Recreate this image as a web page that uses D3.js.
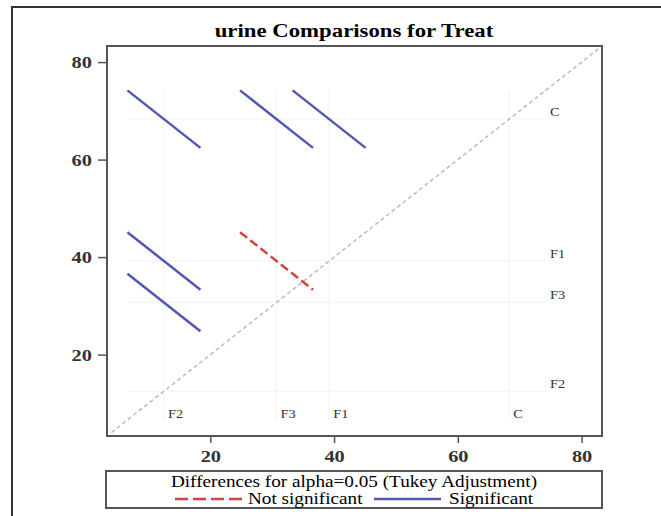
<!DOCTYPE html>
<html>
<head>
<meta charset="utf-8">
<script src="https://cdn.jsdelivr.net/npm/d3@7"></script>
<style>
	body { margin: 0; background: #fff; }
	text { font-family: "Liberation Serif", "Times New Roman", serif; }
</style>
</head>
<body>
<div id="chart"></div>
<script>
// treatment levels and their least squares means
let levels = ['C', 'F1', 'F3', 'F2'];
let means = [68.3, 39.2, 30.7, 12.5];

// pairwise comparisons: higher level, lower level, lower and upper Tukey limits of the difference
let pairHigh = ['C', 'C', 'C', 'F1', 'F3', 'F1'];
let pairLow = ['F2', 'F3', 'F1', 'F2', 'F2', 'F3'];
let pairLower = [44.0, 25.8, 17.3, 14.9, 6.4, -3.3];
let pairUpper = [67.6, 49.4, 40.9, 38.5, 30.0, 20.3];

let ticks = [20, 40, 60, 80];
let axisDomain = [3.3, 83.3];
let refExtent = [6.6, 74.2];

let width = 661;
let height = 516;

let blue = '#5058b3';
let red = '#cf4540';

// the picture is a little wider than tall, text glyphs are stretched the same way
let stretchX = 1.2;

let meanOf = {};
levels.forEach((l, i) => meanOf[l] = means[i]);

let xScale = d3.scaleLinear().domain(axisDomain).range([107, 602]);
let yScale = d3.scaleLinear().domain(axisDomain).range([436, 46]);

/**
 * Widens text horizontally around its own x anchor
 */
function stretch(sel) {
	sel.attr('transform', function() {
		let x = +this.getAttribute('x') || 0;
		return 'translate(' + x + ',0) scale(' + stretchX + ',1) translate(' + (-x) + ',0)';
	});
}

let svg = d3.select('#chart')
		.append('svg')
		.attr('width', width)
		.attr('height', height);

// outer frame (only top and left edges are in view)
svg.append('path')
		.attr('d', 'M12,' + height + 'V7H' + width)
		.attr('fill', 'none')
		.attr('stroke', '#333')
		.attr('stroke-width', 2);

svg.append('text')
		.attr('x', 354)
		.attr('y', 37)
		.attr('text-anchor', 'middle')
		.style('font-size', '19px')
		.style('font-weight', 'bold')
		.text('urine Comparisons for Treat')
		.call(stretch);

// faint reference lines at each mean
let ref = svg.append('g').attr('stroke', '#f2f2f2').attr('stroke-width', 1);
ref.selectAll('.vref')
		.data(means).enter().append('line')
		.attr('x1', d => xScale(d)).attr('x2', d => xScale(d))
		.attr('y1', yScale(refExtent[1])).attr('y2', yScale(refExtent[0]));
ref.selectAll('.href')
		.data(means).enter().append('line')
		.attr('y1', d => yScale(d)).attr('y2', d => yScale(d))
		.attr('x1', xScale(refExtent[0])).attr('x2', xScale(refExtent[1]));

// diagonal y = x
svg.append('line')
		.attr('x1', xScale(4)).attr('y1', yScale(4))
		.attr('x2', xScale(82.7)).attr('y2', yScale(82.7))
		.attr('stroke', '#bbb')
		.attr('stroke-width', 1.5)
		.attr('stroke-dasharray', '4,3');

// level labels along the bottom and the right side
svg.selectAll('.blabel')
		.data(levels).enter().append('text')
		.attr('x', (d, i) => xScale(means[i]) + 4)
		.attr('y', 418)
		.style('font-size', '12px')
		.style('fill', '#333')
		.text(d => d)
		.call(stretch);
svg.selectAll('.rlabel')
		.data(levels).enter().append('text')
		.attr('x', 550)
		.attr('y', (d, i) => yScale(means[i]) - 3)
		.style('font-size', '12px')
		.style('fill', '#333')
		.text(d => d)
		.call(stretch);

// diffogram segments, slope -1 through (mean low, mean high)
let pairs = pairHigh.map((h, i) => ({
	x: meanOf[pairLow[i]], y: meanOf[h], lo: pairLower[i], hi: pairUpper[i]
}));

svg.append('g').selectAll('.seg')
		.data(pairs).enter().append('line')
		.attr('x1', d => xScale((d.x + d.y - d.hi) / 2))
		.attr('y1', d => yScale((d.x + d.y + d.hi) / 2))
		.attr('x2', d => xScale((d.x + d.y - d.lo) / 2))
		.attr('y2', d => yScale((d.x + d.y + d.lo) / 2))
		.attr('stroke', d => d.lo > 0 ? blue : red)
		.attr('stroke-width', 2.5)
		.attr('stroke-dasharray', d => d.lo > 0 ? null : '9,4');

// plot frame
svg.append('rect')
		.attr('x', 107).attr('y', 46)
		.attr('width', 495).attr('height', 390)
		.attr('fill', 'none')
		.attr('stroke', '#555')
		.attr('stroke-width', 2);

let xAxis = svg.append('g')
		.attr('transform', 'translate(0,436)')
		.call(d3.axisBottom(xScale).tickValues(ticks).tickSize(7).tickPadding(7));
let yAxis = svg.append('g')
		.attr('transform', 'translate(107,0)')
		.call(d3.axisLeft(yScale).tickValues(ticks).tickSize(9).tickPadding(6));

[xAxis, yAxis].forEach(a => {
	a.select('.domain').remove();
	a.selectAll('line').attr('stroke', '#555').attr('stroke-width', 1.5);
	a.selectAll('text')
			.style('font-family', '"Liberation Serif", serif')
			.style('font-size', '17px')
			.style('font-weight', 'bold')
			.style('fill', '#333')
			.call(stretch);
});

// legend box
let legend = svg.append('g');
legend.append('rect')
		.attr('x', 106).attr('y', 471)
		.attr('width', 496).attr('height', 37)
		.attr('fill', 'none')
		.attr('stroke', '#555')
		.attr('stroke-width', 2);
legend.append('text')
		.attr('x', 354).attr('y', 487)
		.attr('text-anchor', 'middle')
		.style('font-size', '16px')
		.text('Differences for alpha=0.05 (Tukey Adjustment)')
		.call(stretch);

let items = [
	{label: 'Not significant', color: red, dash: '13,5', x1: 175, x2: 245, tx: 248},
	{label: 'Significant', color: blue, dash: null, x1: 374, x2: 441, tx: 449}
];
items.forEach(it => {
	legend.append('line')
			.attr('x1', it.x1).attr('x2', it.x2)
			.attr('y1', 499).attr('y2', 499)
			.attr('stroke', it.color)
			.attr('stroke-width', 2.5)
			.attr('stroke-dasharray', it.dash);
	legend.append('text')
			.attr('x', it.tx).attr('y', 504)
			.style('font-size', '16px')
			.text(it.label)
			.call(stretch);
});
</script>
</body>
</html>
